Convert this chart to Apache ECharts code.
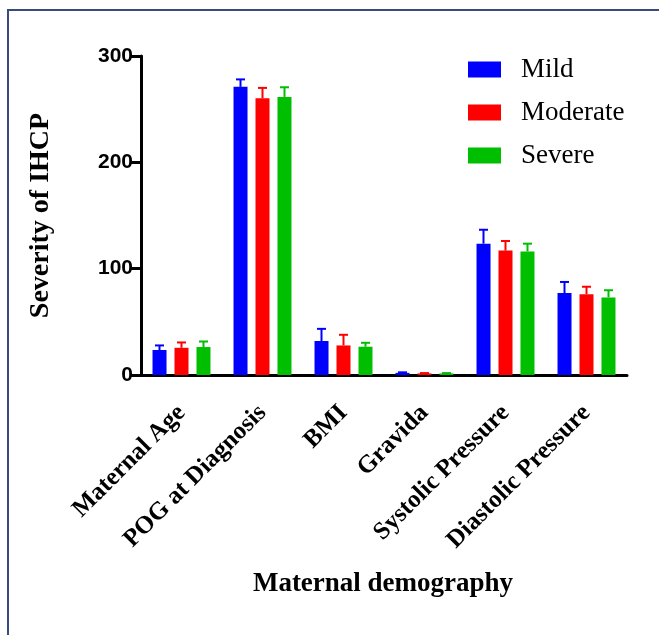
<!DOCTYPE html>
<html>
<head>
<meta charset="utf-8">
<script src="https://cdn.jsdelivr.net/npm/echarts@6/dist/echarts.min.js"></script>
<style>html,body{margin:0;padding:0;background:#fff;}#c{width:659px;height:635px;}</style>
</head>
<body>
<div id="c"></div>
<script>
var categories = ['Maternal Age', 'POG at Diagnosis', 'BMI', 'Gravida', 'Systolic Pressure', 'Diastolic Pressure'];
var seriesNames = ['Mild', 'Moderate', 'Severe'];
var mildMean = [23.5, 271, 32, 2, 123.5, 77];
var mildErr = [27.8, 278, 43.4, 2.5, 136.6, 87.5];
var moderateMean = [25.6, 260.3, 27.8, 1.5, 117, 76];
var moderateErr = [30.6, 270, 37.8, 1.8, 126, 83];
var severeMean = [26.3, 261.5, 26.6, 1.5, 116.2, 73];
var severeErr = [31.5, 270.6, 30.3, 1.8, 123.5, 79.7];
var yTicks = [0, 100, 200, 300];

var colors = ['#0000ff', '#ff0000', '#00bf00'];
var means = [mildMean, moderateMean, severeMean];
var errs = [mildErr, moderateErr, severeErr];
var offsets = [-22, 0, 22];

var chart = echarts.init(document.getElementById('c'), null, {renderer: 'canvas'});
var series = [];
for (var s = 0; s < 3; s++) {
  series.push({
    name: seriesNames[s],
    type: 'bar',
    data: means[s],
    barWidth: 14,
    barGap: '57%',
    itemStyle: {color: colors[s]},
    z: 2
  });
}
for (var s2 = 0; s2 < 3; s2++) {
  (function (si) {
    var d = categories.map(function (c, i) { return [i, means[si][i], errs[si][i]]; });
    series.push({
      type: 'custom',
      name: seriesNames[si] + ' err',
      data: d,
      z: 3,
      silent: true,
      renderItem: function (params, api) {
        var ci = api.value(0);
        var top = api.coord([ci, api.value(1)]);
        var hi = api.coord([ci, api.value(2)]);
        var x = top[0] + offsets[si];
        var st = {stroke: colors[si], lineWidth: 2};
        return {
          type: 'group',
          children: [
            {type: 'line', shape: {x1: x, y1: top[1], x2: x, y2: hi[1]}, style: st},
            {type: 'line', shape: {x1: x - 4.5, y1: hi[1], x2: x + 4.5, y2: hi[1]}, style: st}
          ]
        };
      }
    });
  })(s2);
}

var option = {
  animation: false,
  backgroundColor: '#ffffff',
  graphic: [{
    type: 'rect',
    shape: {x: 8, y: 10, width: 700, height: 700},
    style: {fill: 'none', stroke: '#3b4a7c', lineWidth: 2},
    silent: true
  }, {
    type: 'text',
    x: 383,
    y: 584,
    style: {text: 'Maternal demography', font: 'bold 27px "Liberation Serif"', fill: '#000', textAlign: 'center', textVerticalAlign: 'middle'}
  }],
  legend: {
    data: seriesNames,
    orient: 'vertical',
    left: 468,
    top: 56,
    padding: 0,
    itemWidth: 33,
    itemHeight: 16,
    itemGap: 16,
    icon: 'rect',
    textStyle: {fontFamily: 'Liberation Serif', fontSize: 27, color: '#000', padding: [0, 0, 0, 15]}
  },
  grid: {left: 141, right: 32, top: 56, bottom: 260, containLabel: false},
  xAxis: {
    type: 'category',
    data: categories,
    axisLine: {lineStyle: {color: '#000', width: 3}},
    axisTick: {alignWithLabel: true, length: 10, lineStyle: {color: '#000', width: 3}},
    axisLabel: {
      rotate: 45,
      interval: 0,
      margin: 34,
      color: '#000',
      fontFamily: 'Liberation Serif',
      fontWeight: 'bold',
      fontSize: 25
    }
  },
  yAxis: {
    type: 'value',
    min: 0,
    max: 300,
    interval: 100,
    name: 'Severity of IHCP',
    nameLocation: 'middle',
    nameGap: 86,
    nameTextStyle: {fontFamily: 'Liberation Serif', fontWeight: 'bold', fontSize: 28, color: '#000'},
    splitLine: {show: false},
    axisLine: {show: true, lineStyle: {color: '#000', width: 3}},
    axisTick: {show: true, length: 10, lineStyle: {color: '#000', width: 3}},
    axisLabel: {
      margin: 8,
      color: '#000',
      fontFamily: 'Liberation Sans',
      fontWeight: 'bold',
      fontSize: 21,
      formatter: function (v) { return yTicks.indexOf(v) >= 0 ? String(v) : ''; }
    }
  },
  series: series
};
chart.setOption(option);
</script>
</body>
</html>
